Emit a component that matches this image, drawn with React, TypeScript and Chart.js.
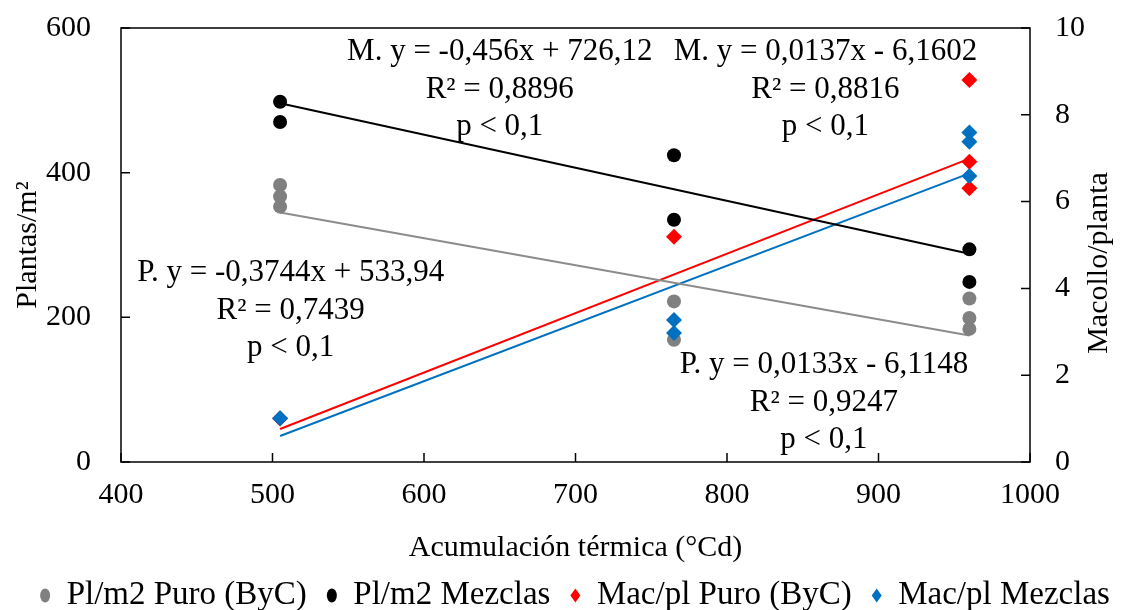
import React, { useEffect, useRef } from "react";
import { Chart, registerables } from "chart.js";

Chart.register(...registerables);

// ---- Data ----
const xTicks = [400, 500, 600, 700, 800, 900, 1000];
const leftTicks = [0, 200, 400, 600];
const rightTicks = [0, 2, 4, 6, 8, 10];

const plPuroX = [505, 505, 505, 765, 765, 960, 960, 960];
const plPuroY = [383, 367, 353, 222, 169, 226, 199, 184];

const plMezX = [505, 505, 765, 765, 960, 960];
const plMezY = [498, 470, 424, 335, 294, 249];

const macPuroX = [505, 765, 960, 960, 960];
const macPuroY = [1.0, 5.19, 8.8, 6.92, 6.31];

const macMezX = [505, 765, 765, 960, 960, 960];
const macMezY = [1.01, 3.27, 2.97, 7.59, 7.38, 6.59];

const trendX = [505, 960];
const trendPlPuro = [345, 175];
const trendPlMez = [496, 288];
const trendMacPuro = [0.76, 6.99];
const trendMacMez = [0.6, 6.65];

const seriesLabels = ["Pl/m2 Puro (ByC)", "Pl/m2 Mezclas", "Mac/pl Puro (ByC)", "Mac/pl Mezclas"];

const annotationTexts = [
  ["M. y = -0,456x + 726,12", "R² = 0,8896", "p < 0,1"],
  ["M. y = 0,0137x - 6,1602", "R² = 0,8816", "p < 0,1"],
  ["P. y = -0,3744x + 533,94", "R² = 0,7439", "p < 0,1"],
  ["P. y = 0,0133x - 6,1148", "R² = 0,9247", "p < 0,1"],
];
// anchors in data units (x axis, left y axis) for the first line centre
const annotationAnchors = [
  { x: 650, y: 567 },
  { x: 865, y: 567 },
  { x: 512, y: 261 },
  { x: 864, y: 134 },
];

const FONT = "'Liberation Serif', 'Times New Roman', serif";

const pts = (xs: number[], ys: number[]) => xs.map((x, i) => ({ x, y: ys[i] }));

export default function App() {
  const ref = useRef<HTMLCanvasElement>(null);

  useEffect(() => {
    const canvas = ref.current!;

    const decorPlugin = {
      id: "decor",
      afterDraw(chart: any) {
        const { ctx, chartArea: a, scales } = chart;
        ctx.save();
        // frame
        ctx.strokeStyle = "#000";
        ctx.lineWidth = 1.5;
        ctx.strokeRect(a.left, a.top, a.right - a.left, a.bottom - a.top);
        // inward tick marks
        const tl = 9;
        ctx.beginPath();
        scales.x.ticks.forEach((t: any) => {
          const px = scales.x.getPixelForValue(t.value);
          ctx.moveTo(px, a.bottom);
          ctx.lineTo(px, a.bottom - tl);
        });
        scales.y.ticks.forEach((t: any) => {
          const py = scales.y.getPixelForValue(t.value);
          ctx.moveTo(a.left, py);
          ctx.lineTo(a.left + tl, py);
        });
        scales.y1.ticks.forEach((t: any) => {
          const py = scales.y1.getPixelForValue(t.value);
          ctx.moveTo(a.right, py);
          ctx.lineTo(a.right - tl, py);
        });
        ctx.stroke();

        // annotations
        ctx.fillStyle = "#000";
        ctx.font = `31px ${FONT}`;
        ctx.textAlign = "center";
        ctx.textBaseline = "middle";
        annotationTexts.forEach((lines, i) => {
          const cx = scales.x.getPixelForValue(annotationAnchors[i].x);
          const cy = scales.y.getPixelForValue(annotationAnchors[i].y);
          lines.forEach((s, j) => ctx.fillText(s, cx, cy + j * 37.5));
        });

        // right axis title (reads bottom-to-top)
        ctx.font = `30px ${FONT}`;
        ctx.translate(1099, 263);
        ctx.rotate(-Math.PI / 2);
        ctx.fillText("Macollo/planta", 0, 0);
        ctx.restore();
      },
    };

    const tickFont = { family: FONT, size: 30 };

    const chart = new Chart(canvas, {
      type: "scatter",
      data: {
        datasets: [
          {
            label: seriesLabels[0],
            data: pts(plPuroX, plPuroY),
            yAxisID: "y",
            pointStyle: "circle",
            pointRadius: 7,
            backgroundColor: "#808080",
            borderColor: "#808080",
            borderWidth: 0,
            order: 4,
          },
          {
            label: seriesLabels[1],
            data: pts(plMezX, plMezY),
            yAxisID: "y",
            pointStyle: "circle",
            pointRadius: 7,
            backgroundColor: "#000000",
            borderColor: "#000000",
            borderWidth: 0,
            order: 3,
          },
          {
            label: seriesLabels[2],
            data: pts(macPuroX, macPuroY),
            yAxisID: "y1",
            pointStyle: "rectRot",
            pointRadius: 8,
            backgroundColor: "#FF0000",
            borderColor: "#FF0000",
            borderWidth: 0,
            order: 2,
          },
          {
            label: seriesLabels[3],
            data: pts(macMezX, macMezY),
            yAxisID: "y1",
            pointStyle: "rectRot",
            pointRadius: 8,
            backgroundColor: "#0070C0",
            borderColor: "#0070C0",
            borderWidth: 0,
            order: 1,
          },
          {
            label: "t1",
            data: pts(trendX, trendPlPuro),
            yAxisID: "y",
            showLine: true,
            pointRadius: 0,
            borderColor: "#8c8c8c",
            borderWidth: 2,
            order: 10,
          },
          {
            label: "t2",
            data: pts(trendX, trendPlMez),
            yAxisID: "y",
            showLine: true,
            pointRadius: 0,
            borderColor: "#000000",
            borderWidth: 2,
            order: 10,
          },
          {
            label: "t3",
            data: pts(trendX, trendMacPuro),
            yAxisID: "y1",
            showLine: true,
            pointRadius: 0,
            borderColor: "#FF0000",
            borderWidth: 2,
            order: 10,
          },
          {
            label: "t4",
            data: pts(trendX, trendMacMez),
            yAxisID: "y1",
            showLine: true,
            pointRadius: 0,
            borderColor: "#0070C0",
            borderWidth: 2,
            order: 10,
          },
        ],
      },
      options: {
        animation: false,
        responsive: false,
        events: [],
        layout: { padding: { top: 28, left: 0, right: -26, bottom: -12 } },
        plugins: {
          tooltip: { enabled: false },
          legend: {
            position: "bottom",
            labels: {
              font: { family: FONT, size: 33 },
              color: "#000",
              usePointStyle: true,
              pointStyleWidth: 10,
              boxHeight: 10,
              padding: 20,
              filter: (item: any) => item.datasetIndex < 4,
              sort: (a: any, b: any) => a.datasetIndex - b.datasetIndex,
            },
          },
        },
        scales: {
          x: {
            type: "linear",
            min: 400,
            max: 1000,
            afterBuildTicks: (s: any) => {
              s.ticks = xTicks.map((v) => ({ value: v }));
            },
            ticks: { font: tickFont, color: "#000", padding: 15, callback: (v: any) => String(v) },
            grid: { display: false, drawTicks: false },
            border: { display: false },
            title: {
              display: true,
              text: "Acumulación térmica (°Cd)",
              font: { family: FONT, size: 30, lineHeight: 1 },
              color: "#000",
              padding: { top: 0, bottom: -4 },
            },
            afterFit: (s: any) => {
              s.height = 97;
              s.paddingLeft = 0;
              s.paddingRight = 0;
            },
          },
          y: {
            position: "left",
            min: 0,
            max: 600,
            afterBuildTicks: (s: any) => {
              s.ticks = leftTicks.map((v) => ({ value: v }));
            },
            ticks: { font: tickFont, color: "#000", padding: 30, callback: (v: any) => String(v) },
            grid: { display: false, drawTicks: false },
            border: { display: false },
            title: {
              display: true,
              text: "Plantas/m²",
              font: tickFont,
              color: "#000",
              padding: { top: 10, bottom: 0 },
            },
            afterFit: (s: any) => {
              s.width = 121;
              s.paddingTop = 0;
              s.paddingBottom = 0;
            },
          },
          y1: {
            position: "right",
            min: 0,
            max: 10,
            afterBuildTicks: (s: any) => {
              s.ticks = rightTicks.map((v) => ({ value: v }));
            },
            ticks: { font: tickFont, color: "#000", padding: 25, callback: (v: any) => String(v) },
            grid: { display: false, drawTicks: false },
            border: { display: false },
            afterFit: (s: any) => {
              s.width = 120;
              s.paddingTop = 0;
              s.paddingBottom = 0;
            },
          },
        },
      },
      plugins: [decorPlugin],
    } as any);

    return () => chart.destroy();
  }, []);

  return (
    <div style={{ position: "absolute", left: 0, top: 0, width: 1124, height: 610, background: "#fff" }}>
      <canvas ref={ref} width={1124} height={610} style={{ display: "block" }} />
    </div>
  );
}
